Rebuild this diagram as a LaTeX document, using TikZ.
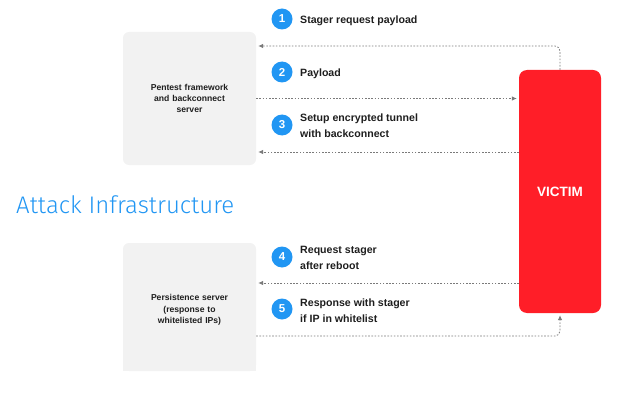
\documentclass[tikz,border=0pt]{standalone}
\usepackage{fontspec}
\setmainfont{Liberation Sans}
\newfontfamily\titlefont{Fira Sans Light}
\usetikzlibrary{arrows.meta}
\definecolor{boxgray}{HTML}{F2F2F2}
\definecolor{victimred}{HTML}{FF1E28}
\definecolor{stepblue}{HTML}{2196F3}
\definecolor{linegray}{HTML}{7A7A7A}
\definecolor{txt}{HTML}{1E1E1E}
\tikzset{
  serverbox/.style={fill=boxgray, rounded corners=6pt, minimum width=133pt, inner sep=0pt,
    text width=120pt, align=center, font=\fontsize{8.6}{11.3}\selectfont\bfseries, text=txt},
  victimbox/.style={fill=victimred, rounded corners=8pt, minimum width=82pt, minimum height=243pt,
    inner sep=0pt, font=\fontsize{13.5}{16}\selectfont\bfseries, text=white},
  stepnum/.style={circle, fill=stepblue, minimum size=21pt, inner sep=0pt,
    font=\fontsize{11.5}{13}\selectfont\bfseries, text=white},
  steplabel/.style={anchor=west, inner sep=0pt, align=left,
    font=\fontsize{10.6}{16}\selectfont\bfseries, text=txt},
  flow/.style={draw=linegray, line width=0.8pt, dash pattern=on 1.6pt off 1.6pt,
    -{Latex[length=5pt,width=4.5pt]}, shorten >=2pt},
}
\begin{document}
\begin{tikzpicture}[x=1pt,y=-1pt]
\useasboundingbox (0,0) rectangle (631,409);
% servers
\node[serverbox, minimum height=133pt] (pentest) at (189.5,98.5) {Pentest framework\\and backconnect\\server};
\fill[boxgray] (123,300) rectangle (256,371);
\node[serverbox, minimum height=128pt] (persist) at (189.5,307) {};
\node[serverbox, fill=none, text width=110pt] (persisttext) at (189.5,310) {Persistence server\\(response to\\whitelisted IPs)};
% victim
\node[victimbox] (victim) at (560,191.5) {VICTIM};
% title
\node[anchor=west, inner sep=0pt, text=stepblue, font=\titlefont\fontsize{24}{27}\selectfont] (title) at (16,205) {Attack Infrastructure};
% step markers and labels
\node[stepnum] (n1) at (282,19) {1};
\node[steplabel] (l1) at (300,20.5) {Stager request payload};
\node[stepnum] (n2) at (282,72) {2};
\node[steplabel] (l2) at (300,73.5) {Payload};
\node[stepnum] (n3) at (282,125) {3};
\node[steplabel] (l3) at (300,126) {Setup encrypted tunnel\\with backconnect};
\node[stepnum] (n4) at (282,257) {4};
\node[steplabel] (l4) at (300,258) {Request stager\\after reboot};
\node[stepnum] (n5) at (282,309) {5};
\node[steplabel] (l5) at (300,310.5) {Response with stager\\if IP in whitelist};
% connectors
\draw[flow, rounded corners=5pt] (victim.north) -- (victim.north |- 0,46) -- (pentest.east |- 0,46);
\draw[flow] (pentest.east) -- (victim.west |- pentest.east);
\draw[flow] (victim.west |- 0,152) -- (pentest.east |- 0,152);
\draw[flow] (victim.west |- 0,283) -- (persist.east |- 0,283);
\draw[flow, rounded corners=5pt] (persist.east |- 0,336) -- (victim.south |- 0,336) -- (victim.south);
\end{tikzpicture}
\end{document}
